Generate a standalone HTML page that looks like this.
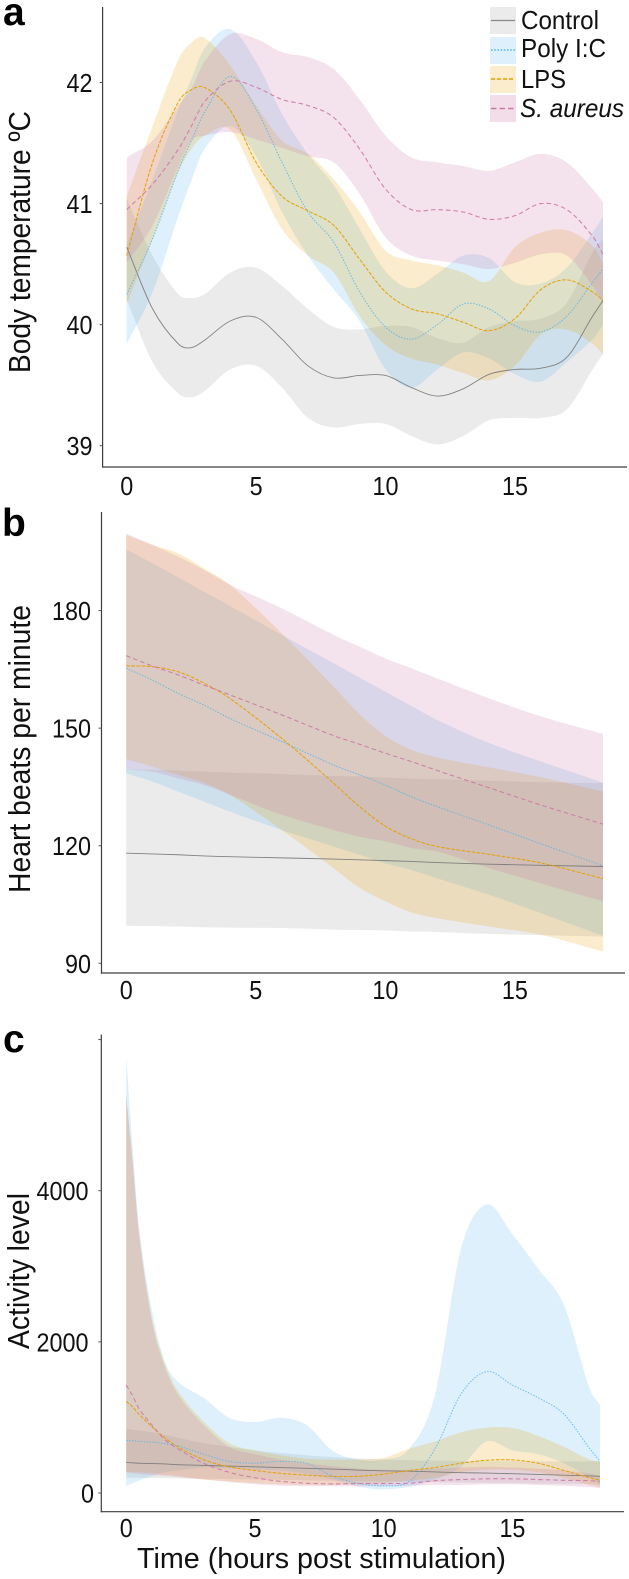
<!DOCTYPE html>
<html lang="en">
<head>
<meta charset="utf-8">
<title>Body temperature, heart rate and activity after stimulation</title>
<style>
html,body{margin:0;padding:0;background:#fff;}
body{width:629px;height:1579px;overflow:hidden;}
svg{display:block;}
text{font-family:"Liberation Sans",sans-serif;fill:#111;}
</style>
</head>
<body>
<svg id="figure" xmlns="http://www.w3.org/2000/svg" width="629" height="1579" viewBox="0 0 629 1579">
  <text x="3" y="25" font-size="39" font-weight="700" style="fill:#000">a</text>
  <text x="2" y="536" font-size="39" font-weight="700" style="fill:#000">b</text>
  <text x="3" y="1052" font-size="39" font-weight="700" style="fill:#000">c</text>

  <text transform="translate(30,242) rotate(-90)" text-anchor="middle" font-size="31" textLength="262" lengthAdjust="spacingAndGlyphs">Body temperature ºC</text>
  <text transform="translate(30,749) rotate(-90)" text-anchor="middle" font-size="31" textLength="288" lengthAdjust="spacingAndGlyphs">Heart beats per minute</text>
  <text transform="translate(29,1271) rotate(-90)" text-anchor="middle" font-size="31" textLength="156" lengthAdjust="spacingAndGlyphs">Activity level</text>
  <text x="137" y="1568" font-size="29" textLength="369" lengthAdjust="spacingAndGlyphs">Time (hours post stimulation)</text>

  <g id="panel-a"></g>
  <g id="panel-b"></g>
  <g id="panel-c"></g>

  <g>
    <g>
      <rect x="490" y="7" width="26" height="27" fill="#999999" fill-opacity="0.2"/>
      <line x1="491" x2="515" y1="20.5" y2="20.5" stroke="#8a8a8a" stroke-width="1.2"/>
      <text x="521" y="29" font-size="26" textLength="78" lengthAdjust="spacingAndGlyphs">Control</text>
    </g>
    <g>
      <rect x="490" y="37" width="26" height="27" fill="#56B4E9" fill-opacity="0.2"/>
      <line x1="491" x2="515" y1="50" y2="50" stroke="#56B4E9" stroke-width="1.4" stroke-dasharray="1.6 1.6"/>
      <text x="521" y="57" font-size="26" textLength="85" lengthAdjust="spacingAndGlyphs">Poly I:C</text>
    </g>
    <g>
      <rect x="490" y="66" width="26" height="27" fill="#E69F00" fill-opacity="0.2"/>
      <line x1="491" x2="515" y1="79" y2="79" stroke="#E69F00" stroke-width="1.4" stroke-dasharray="4 2"/>
      <text x="521" y="88" font-size="26" textLength="45" lengthAdjust="spacingAndGlyphs">LPS</text>
    </g>
    <g>
      <rect x="490" y="95" width="26" height="27" fill="#CC79A7" fill-opacity="0.25"/>
      <line x1="491" x2="515" y1="108.5" y2="108.5" stroke="#CC79A7" stroke-width="1.4" stroke-dasharray="5.5 3"/>
      <text x="520" y="117" font-size="26" font-style="italic" textLength="104" lengthAdjust="spacingAndGlyphs">S. aureus</text>
    </g>
  </g>
</svg>

<script>
/* ---------- Panel a: body temperature (degrees C) ---------- */
const tempHours = [0,1,2,2.5,3,4,5,6,7,8,9,10,11,12,13,14,15,16,17,18,18.4];
const tempControl   = [40.64,40.13,39.84,39.81,39.87,40.03,40.06,39.88,39.66,39.56,39.58,39.58,39.48,39.41,39.47,39.59,39.63,39.64,39.73,40.07,40.20];
const tempControlHi = [41.04,40.57,40.25,40.22,40.25,40.43,40.47,40.32,40.13,39.98,39.96,39.99,39.98,39.89,39.85,39.98,40.03,40.05,40.18,40.60,40.71];
const tempControlLo = [40.21,39.69,39.43,39.40,39.45,39.63,39.66,39.48,39.23,39.15,39.18,39.18,39.08,39.01,39.08,39.21,39.23,39.23,39.30,39.63,39.76];
const tempPoly      = [40.25,40.71,41.28,41.52,41.75,42.05,41.78,41.34,40.93,40.68,40.27,39.98,39.88,40.00,40.17,40.13,39.99,39.94,40.07,40.35,40.46];
const tempPolyHi    = [40.66,41.20,41.78,42.03,42.28,42.44,42.17,41.74,41.41,41.15,40.79,40.44,40.30,40.42,40.57,40.55,40.35,40.34,40.47,40.76,40.89];
const tempPolyLo    = [39.84,40.27,40.90,41.19,41.45,41.64,41.39,40.93,40.57,40.29,40.03,39.63,39.48,39.63,39.77,39.72,39.59,39.53,39.69,39.88,40.00];
const tempLps       = [40.57,41.34,41.84,41.94,41.96,41.77,41.34,41.06,40.94,40.82,40.54,40.27,40.13,40.09,40.02,39.95,40.05,40.29,40.37,40.27,40.20];
const tempLpsHi     = [41.06,41.64,42.19,42.33,42.37,42.14,41.81,41.52,41.41,41.20,40.93,40.61,40.53,40.49,40.43,40.36,40.64,40.76,40.78,40.65,40.51];
const tempLpsLo     = [40.17,40.71,41.26,41.45,41.56,41.61,41.20,40.79,40.57,40.43,40.07,39.83,39.72,39.67,39.60,39.54,39.66,39.92,39.96,39.84,39.76];
const tempAureus    = [40.95,41.16,41.45,41.64,41.84,42.01,41.96,41.86,41.81,41.71,41.45,41.12,40.95,40.95,40.93,40.87,40.90,41.00,40.95,40.73,40.58];
const tempAureusHi  = [41.38,41.52,41.81,41.95,42.17,42.40,42.36,42.25,42.21,42.11,41.86,41.56,41.38,41.34,41.31,41.27,41.34,41.41,41.34,41.12,41.01];
const tempAureusLo  = [40.51,40.82,41.31,41.52,41.56,41.59,41.53,41.46,41.39,41.34,41.08,40.72,40.57,40.53,40.50,40.46,40.51,40.58,40.57,40.32,40.17];
const tempTicks = [39,40,41,42];

/* ---------- Panel b: heart beats per minute ---------- */
const heartHours = [0,1,2,3,4,6,8,9,10,11,12,14,16,18.4];
const heartControl   = [118.1,117.9,117.7,117.4,117.2,116.9,116.6,116.4,116.2,116.0,115.7,115.3,115.0,114.7];
const heartControlHi = [139.5,139.4,139.2,138.9,138.7,138.3,137.8,137.7,137.4,137.1,137.0,136.6,136.2,136.0];
const heartControlLo = [99.6,99.5,99.4,99.2,99.1,99.0,98.6,98.5,98.4,98.1,98.0,97.5,97.2,96.8];
const heartPoly      = [165.3,162.3,158.9,155.9,152.5,146.6,140.6,138.1,135.5,132.5,130.0,125.3,120.5,114.9];
const heartPolyHi    = [195.6,192.1,188.5,184.8,181.2,173.8,166.6,162.9,159.3,155.7,152.1,146.2,141.5,136.1];
const heartPolyLo    = [138.5,136.4,133.8,131.3,128.7,124.0,119.8,117.7,115.5,113.8,111.7,107.5,102.8,97.0];
const heartLps       = [165.9,165.7,164.4,161.5,157.6,147.4,136.0,130.0,125.0,121.8,119.8,117.8,115.6,111.6];
const heartLpsHi     = [199.3,196.8,194.6,190.8,186.6,174.2,160.6,153.6,148.0,144.5,142.5,140.0,137.5,133.8];
const heartLpsLo     = [142.1,140.2,138.1,136.0,133.0,124.0,114.3,109.3,105.8,103.0,101.5,99.4,97.3,93.0];
const heartAureus    = [168.5,165.9,163.6,161.0,158.5,153.4,148.1,145.9,143.6,141.5,139.2,134.8,130.4,125.5];
const heartAureusHi  = [199.7,196.8,193.8,190.4,186.6,180.6,173.8,170.8,167.8,165.3,162.7,157.6,153.0,148.5];
const heartAureusLo  = [139.5,138.9,137.2,135.5,133.0,127.9,124.0,122.3,121.1,119.4,118.5,114.3,110.4,105.8];
const heartTicks = [90,120,150,180];

/* ---------- Panel c: activity level ---------- */
const activityHours = [0,0.25,0.5,1,1.5,2,3,4,5,6,7,8,9,10,11,12,13,14,15,16,17,18,18.4];
const activityControl   = [404,399,394,389,385,375,365,356,346,337,327,317,303,293,288,279,269,264,255,245,236,226,221];
const activityControlHi = [851,837,827,803,769,731,659,611,563,529,500,476,457,442,433,428,423,423,423,418,418,418,418];
const activityControlLo = [202,202,202,197,197,192,188,183,178,173,168,163,159,154,149,144,139,135,130,125,120,115,111];
const activityPoly      = [697,692,683,673,654,625,514,418,394,418,394,226,130,96,154,587,1308,1606,1428,1260,1043,587,418];
const activityPolyHi    = [5779,4577,3519,2414,1740,1476,1260,995,938,995,899,563,442,442,587,1308,3231,3818,3423,2967,2486,1380,1164];
const activityPolyLo    = [96,130,163,226,274,298,337,322,308,298,250,178,82,48,82,178,346,683,563,514,394,202,106];
const activityLps       = [1212,1139,1043,875,731,611,442,346,298,260,236,221,221,250,298,337,394,433,438,394,298,202,168];
const activityLpsHi     = [5250,4385,3423,2317,1716,1356,947,659,563,500,452,442,442,466,587,683,803,865,861,755,611,442,418];
const activityLpsLo     = [274,274,274,260,240,226,178,154,130,115,106,106,115,130,163,202,274,308,308,274,202,106,72];
const activityAureus    = [1428,1284,1115,899,707,587,394,274,202,154,130,120,125,125,130,163,178,188,188,178,168,163,154];
const activityAureusHi  = [5274,4385,3423,2269,1668,1308,899,611,514,442,394,356,322,308,308,322,337,346,337,322,298,260,226];
const activityAureusLo  = [274,260,250,236,226,212,178,144,115,96,91,91,91,91,96,106,106,115,115,106,96,77,67];
const activityTicks = [0,2000,4000];

const xTicks = [0,5,10,15];

const NS = 'http://www.w3.org/2000/svg';
const CHAR_WIDTH = 13;

function linearScale(d0, r0, d1, r1) {
  return function (v) { return r0 + (v - d0) * (r1 - r0) / (d1 - d0); };
}

function make(parent, tag, attrs) {
  const el = document.createElementNS(NS, tag);
  Object.keys(attrs).forEach(function (k) { el.setAttribute(k, attrs[k]); });
  parent.appendChild(el);
  return el;
}

/* smooth curve through points: cubic segments with finite-difference slopes */
function curveCommands(xs, ys, move) {
  const n = xs.length;
  const m = [];
  for (let i = 0; i < n; i++) {
    if (i === 0) m.push((ys[1] - ys[0]) / (xs[1] - xs[0]));
    else if (i === n - 1) m.push((ys[n - 1] - ys[n - 2]) / (xs[n - 1] - xs[n - 2]));
    else m.push((ys[i + 1] - ys[i - 1]) / (xs[i + 1] - xs[i - 1]));
  }
  let d = (move ? 'M' : 'L') + xs[0].toFixed(2) + ' ' + ys[0].toFixed(2);
  for (let i = 0; i < n - 1; i++) {
    const h = (xs[i + 1] - xs[i]) / 3;
    d += 'C' + (xs[i] + h).toFixed(2) + ' ' + (ys[i] + m[i] * h).toFixed(2) + ' ' +
         (xs[i + 1] - h).toFixed(2) + ' ' + (ys[i + 1] - m[i + 1] * h).toFixed(2) + ' ' +
         xs[i + 1].toFixed(2) + ' ' + ys[i + 1].toFixed(2);
  }
  return d;
}

function drawPanel(cfg) {
  const g = document.getElementById(cfg.id);
  const sx = linearScale(0, cfg.x0, 18.4, cfg.x1);
  const sy = linearScale(cfg.yRef0, cfg.yPx0, cfg.yRef1, cfg.yPx1);
  const xs = cfg.hours.map(sx);

  cfg.series.forEach(function (s) {
    const hi = s.hi.map(sy);
    const lo = s.lo.map(sy);
    const d = curveCommands(xs, hi, true) +
              curveCommands(xs.slice().reverse(), lo.slice().reverse(), false) + 'Z';
    const band = make(g, 'path', { d: d, fill: s.color, 'fill-opacity': s.alpha });
    
    
  });

  cfg.series.forEach(function (s) {
    const line = make(g, 'path', {
      d: curveCommands(xs, s.mid.map(sy), true),
      fill: 'none', stroke: s.stroke, 'stroke-width': s.width,
      'stroke-opacity': s.opacity, 'stroke-dasharray': s.dash
    });
    
    
  });

  const yAxis = make(g, 'line', { x1: cfg.axisX, x2: cfg.axisX, y1: cfg.axisTop, y2: cfg.axisBottom + 0.6, stroke: '#3c3c3c', 'stroke-width': 1.2 });
  
  
  const xAxis = make(g, 'line', { x1: cfg.axisX - 0.6, x2: cfg.axisRight, y1: cfg.axisBottom, y2: cfg.axisBottom, stroke: '#3c3c3c', 'stroke-width': 1.2 });
  
  

  cfg.yTicks.forEach(function (t) {
    const y = sy(t);
    const mark = make(g, 'line', { x1: cfg.axisX - 3, x2: cfg.axisX, y1: y, y2: y, stroke: '#555', 'stroke-width': 1 });
    
    
    const chars = String(t).length;
    const labelX = cfg.labelX + (chars === 1 ? cfg.shortLabelShift : 0);
    const label = make(g, 'text', {
      x: labelX, y: y + 9.5, 'text-anchor': 'end', 'font-size': cfg.fontSize,
      textLength: chars * CHAR_WIDTH, lengthAdjust: 'spacingAndGlyphs'
    });
    
    
    label.textContent = t;
  });

  if (cfg.extraTickValue !== undefined) {
    const y = sy(cfg.extraTickValue);
    const mark = make(g, 'line', { x1: cfg.axisX - 3, x2: cfg.axisX, y1: y, y2: y, stroke: '#555', 'stroke-width': 1 });
    
    
  }

  xTicks.forEach(function (t) {
    const label = make(g, 'text', {
      x: sx(t), y: cfg.xLabelY, 'text-anchor': 'middle', 'font-size': cfg.fontSize,
      textLength: String(t).length * CHAR_WIDTH, lengthAdjust: 'spacingAndGlyphs'
    });
    
    
    label.textContent = t;
  });
}

function styled(key, mid, hi, lo) {
  const styles = {
    control: { color: '#999999', alpha: 0.2,  stroke: '#777777', width: 0.9,  opacity: 0.9,  dash: 'none' },
    poly:    { color: '#56B4E9', alpha: 0.2,  stroke: '#56B4E9', width: 1.05, opacity: 0.85, dash: '1.4 1.5' },
    lps:     { color: '#E69F00', alpha: 0.2,  stroke: '#E69F00', width: 1.05, opacity: 0.95, dash: '3.6 1.5' },
    aureus:  { color: '#CC79A7', alpha: 0.22, stroke: '#CC79A7', width: 1.05, opacity: 0.95, dash: '4.5 3' }
  };
  return Object.assign({ key: key, mid: mid, hi: hi, lo: lo }, styles[key]);
}

drawPanel({
  id: 'panel-a', hours: tempHours, x0: 126.7, x1: 603,
  yRef0: 42, yPx0: 82.5, yRef1: 39, yPx1: 445.7,
  axisX: 102.6, axisTop: 7, axisBottom: 467, axisRight: 627,
  yTicks: tempTicks, labelX: 92.5, shortLabelShift: 0, xLabelY: 495, fontSize: 25.5,
  series: [
    styled('control', tempControl, tempControlHi, tempControlLo),
    styled('poly', tempPoly, tempPolyHi, tempPolyLo),
    styled('lps', tempLps, tempLpsHi, tempLpsLo),
    styled('aureus', tempAureus, tempAureusHi, tempAureusLo)
  ]
});

drawPanel({
  id: 'panel-b', hours: heartHours, x0: 126.2, x1: 603,
  yRef0: 180, yPx0: 610.6, yRef1: 90, yPx1: 963.3,
  axisX: 101.5, axisTop: 512, axisBottom: 973, axisRight: 625,
  yTicks: heartTicks, labelX: 91, shortLabelShift: 0, xLabelY: 999, fontSize: 25.5,
  series: [
    styled('control', heartControl, heartControlHi, heartControlLo),
    styled('poly', heartPoly, heartPolyHi, heartPolyLo),
    styled('lps', heartLps, heartLpsHi, heartLpsLo),
    styled('aureus', heartAureus, heartAureusHi, heartAureusLo)
  ]
});

drawPanel({
  id: 'panel-c', hours: activityHours, x0: 126.2, x1: 600,
  yRef0: 4000, yPx0: 1190.7, yRef1: 0, yPx1: 1493,
  axisX: 101.3, axisTop: 1034.6, axisBottom: 1511.7, axisRight: 624,
  yTicks: activityTicks, labelX: 88.5, shortLabelShift: 5.5, xLabelY: 1537, fontSize: 25.5,
  extraTickValue: 6000,
  series: [
    styled('control', activityControl, activityControlHi, activityControlLo),
    styled('poly', activityPoly, activityPolyHi, activityPolyLo),
    styled('lps', activityLps, activityLpsHi, activityLpsLo),
    styled('aureus', activityAureus, activityAureusHi, activityAureusLo)
  ]
});
</script>
</body>
</html>
